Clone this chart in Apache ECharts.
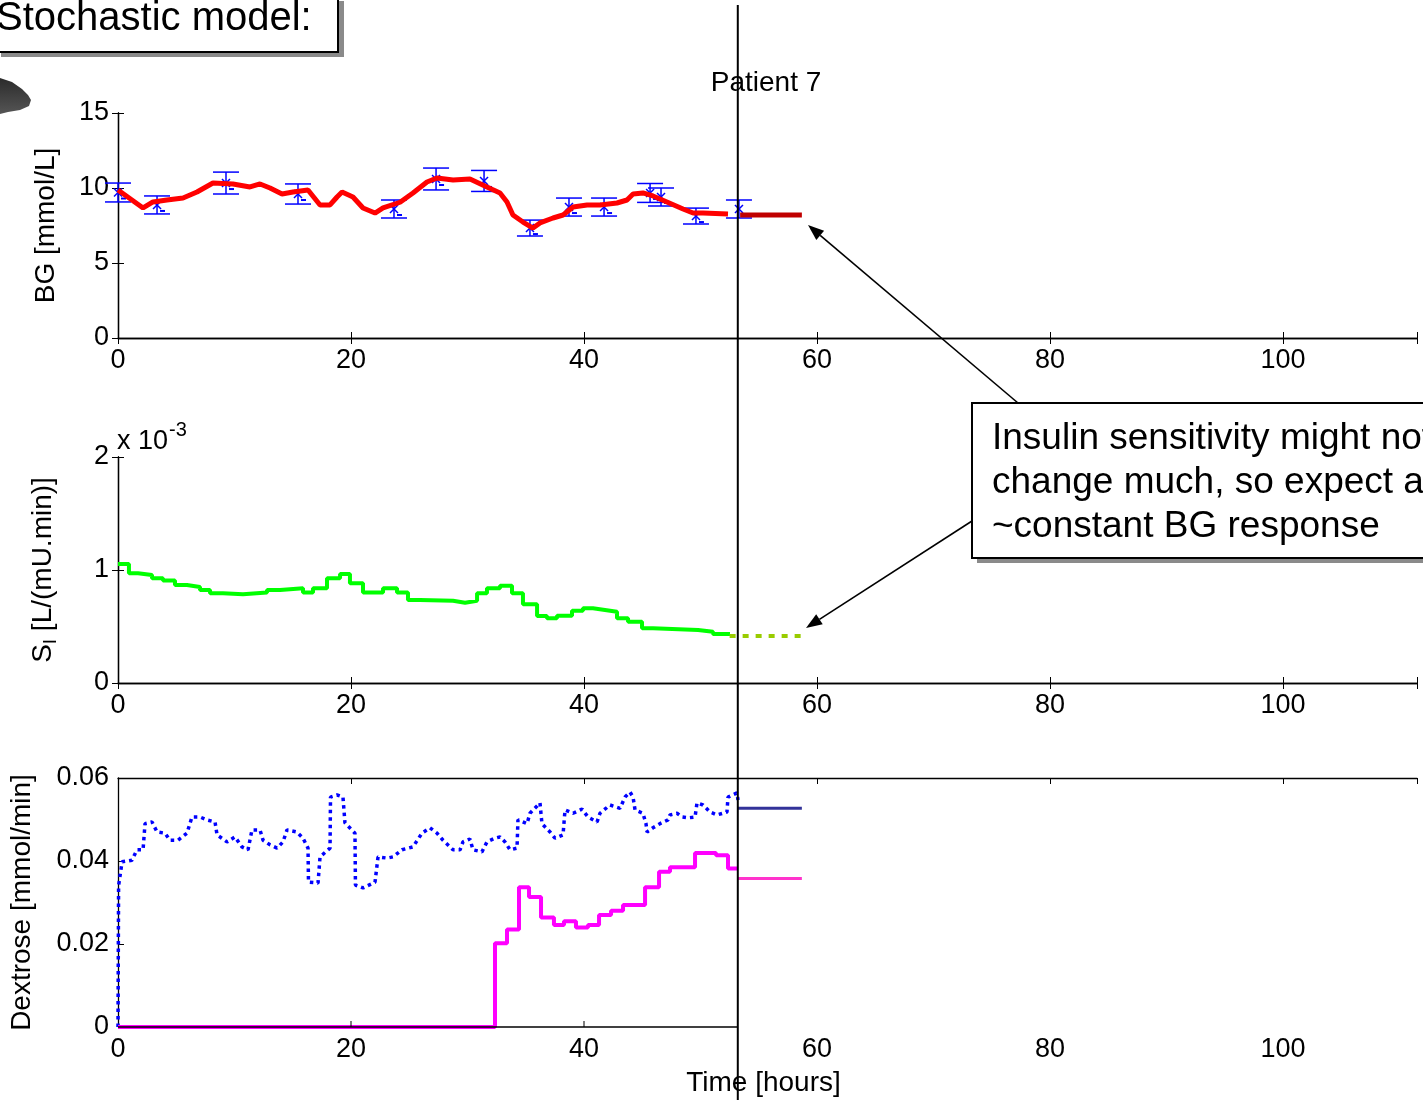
<!DOCTYPE html>
<html><head><meta charset="utf-8">
<script src="https://cdn.jsdelivr.net/npm/echarts@6/dist/echarts.min.js"></script>
<style>html,body{margin:0;padding:0;background:#fff;overflow:hidden}#c{width:1423px;height:1100px}</style>
</head><body><div id="c"></div><script>
// ---- data (hours / values) ----
const xTicks = [0, 20, 40, 60, 80, 100];
const nowTime = 53.2;

const bgTime  = [0, 2.15, 3.0, 4.2, 5.58, 6.78, 8.15, 9.87, 11.33, 12.19, 13.05, 14.08, 15.02, 16.31, 17.34, 18.2, 18.8, 19.23, 20.17, 21.03, 22.06, 22.75, 24.21, 25.32, 26.52, 27.38, 28.76, 30.21, 31.67, 32.79, 33.39, 33.9, 34.76, 35.62, 36.22, 37.34, 38.2, 39.06, 40.26, 41.37, 42.83, 43.69, 44.21, 45.06, 45.92, 47.12, 48.5, 49.36, 50.21, 52.36];
const bgValue = [9.87, 8.67, 9.07, 9.2, 9.33, 9.73, 10.33, 10.27, 10.07, 10.27, 10.0, 9.6, 9.73, 9.87, 8.87, 8.87, 9.4, 9.73, 9.4, 8.67, 8.33, 8.67, 9.05, 9.67, 10.4, 10.67, 10.53, 10.6, 10.07, 9.67, 9.07, 8.2, 7.73, 7.33, 7.67, 8.0, 8.2, 8.73, 8.87, 8.87, 9.0, 9.2, 9.6, 9.67, 9.47, 9.07, 8.6, 8.33, 8.33, 8.27];
const bgForecastTime  = [53.4, 58.7];
const bgForecastValue = [8.2, 8.2];

const measTime  = [0, 3.35, 9.27, 15.45, 23.69, 27.3, 31.42, 35.36, 38.71, 41.72, 45.67, 46.61, 49.61, 53.3];
const measValue = [9.7, 8.87, 10.33, 9.6, 8.6, 10.6, 10.47, 7.33, 8.73, 8.73, 9.67, 9.4, 8.13, 8.6];
const measErr   = [0.63, 0.6, 0.73, 0.67, 0.6, 0.73, 0.7, 0.53, 0.6, 0.6, 0.63, 0.6, 0.53, 0.6];

// insulin sensitivity, in units of 1e-3 L/(mU.min); each value holds until the next time
const siTime  = [0, 0.94, 1.72, 2.92, 3.86, 4.89, 5.92, 7.04, 7.9, 9.01, 10.73, 12.79, 13.91, 15.88, 16.74, 17.94, 19.06, 19.91, 21.03, 22.75, 23.95, 24.89, 25.92, 28.76, 29.79, 30.82, 31.67, 32.79, 33.82, 34.76, 35.97, 36.82, 37.68, 38.97, 39.91, 40.77, 41.8, 42.83, 43.78, 44.98, 45.92, 49.79, 51.07, 52.53];
const siValue = [1.053, 0.971, 0.956, 0.926, 0.906, 0.867, 0.85, 0.823, 0.794, 0.785, 0.80, 0.823, 0.838, 0.80, 0.838, 0.926, 0.965, 0.882, 0.80, 0.838, 0.80, 0.735, 0.727, 0.71, 0.727, 0.794, 0.838, 0.861, 0.794, 0.696, 0.593, 0.572, 0.596, 0.64, 0.661, 0.646, 0.631, 0.572, 0.543, 0.484, 0.469, 0.454, 0.434, 0.434];
const siForecastTime  = [52.5, 58.8];
const siForecastValue = [0.416, 0.416];

// total glucose input (blue dotted)
const feedTime  = [0, 0.05, 0.35, 1.2, 1.63, 2.15, 2.32, 2.92, 3.35, 4.03, 4.46, 5.15, 5.92, 6.35, 7.04, 7.64, 8.33, 8.5, 9.36, 10.04, 10.64, 11.16, 11.5, 12.19, 12.45, 13.05, 13.65, 14.16, 14.51, 15.36, 15.88, 16.31, 16.35, 17.17, 17.34, 18.2, 18.24, 18.8, 19.31, 19.48, 20.34, 20.38, 21.03, 22.06, 22.32, 23.09, 23.61, 24.38, 25.32, 26.09, 26.78, 27.38, 27.9, 28.76, 29.36, 29.61, 30.21, 30.47, 31.24, 31.67, 32.36, 32.79, 33.22, 33.65, 34.25, 34.33, 35.11, 35.36, 36.22, 36.39, 37.08, 37.51, 38.2, 38.37, 39.06, 39.83, 40.34, 41.12, 41.37, 42.23, 43.09, 43.52, 43.95, 44.21, 44.38, 45.06, 45.32, 45.41, 45.92, 46.52, 47.21, 47.38, 47.98, 48.41, 48.93, 49.53, 49.7, 50.21, 50.82, 51.42, 52.27, 52.36, 53.13, 53.22];
const feedValue = [0, 0.034, 0.0398, 0.0402, 0.0427, 0.0427, 0.049, 0.0494, 0.047, 0.0467, 0.045, 0.045, 0.0467, 0.0506, 0.0506, 0.0499, 0.0494, 0.0463, 0.0446, 0.0458, 0.0434, 0.0427, 0.0475, 0.0475, 0.045, 0.0439, 0.0431, 0.0446, 0.0475, 0.047, 0.0455, 0.0431, 0.0349, 0.0347, 0.041, 0.0431, 0.0554, 0.0559, 0.0554, 0.0492, 0.0467, 0.0342, 0.0335, 0.0349, 0.041, 0.0407, 0.041, 0.0427, 0.0434, 0.0467, 0.048, 0.0467, 0.045, 0.0427, 0.0427, 0.0446, 0.0453, 0.0427, 0.0422, 0.0446, 0.0455, 0.0458, 0.0446, 0.0427, 0.0431, 0.0499, 0.049, 0.0515, 0.054, 0.049, 0.047, 0.0455, 0.0463, 0.0523, 0.0515, 0.0525, 0.0506, 0.0494, 0.0515, 0.0535, 0.0527, 0.0554, 0.0566, 0.0554, 0.0523, 0.0515, 0.049, 0.047, 0.048, 0.049, 0.0499, 0.0511, 0.0515, 0.0506, 0.0504, 0.0506, 0.054, 0.0535, 0.0518, 0.0511, 0.0518, 0.0554, 0.0564, 0.0547];
const feedForecastTime  = [53.2, 58.7];
const feedForecastValue = [0.0527, 0.0527];

// dextrose infusion (magenta step); each value holds until the next time
const dexTime  = [0, 32.36, 33.39, 34.42, 35.28, 36.31, 37.42, 38.28, 39.31, 40.34, 41.29, 42.32, 43.35, 45.24, 46.44, 47.38, 49.53, 51.33, 52.36, 53.2];
const dexValue = [0, 0.0202, 0.0235, 0.0337, 0.0313, 0.0264, 0.0246, 0.0255, 0.024, 0.0246, 0.027, 0.028, 0.0294, 0.0337, 0.0374, 0.0385, 0.0419, 0.0414, 0.0382, 0.0382];
const dexForecastTime  = [53.2, 58.7];
const dexForecastValue = [0.0358, 0.0358];

// ---- chart ----
const FONT = 'Arial, "Liberation Sans", Helvetica, sans-serif';
const X_MAX = 111.5;
const pairs = (a, b) => a.map((t, i) => [t, b[i]]);
const black = '#000';

function bottomX(grid, showLine, showTick) {
  return {
    type: 'value', gridIndex: grid, min: 0, max: X_MAX, interval: 20, position: 'bottom',
    axisLine: { show: showLine, lineStyle: { color: black, width: 1.3 } },
    axisTick: { show: showTick, inside: true, length: 6, lineStyle: { color: black } },
    axisLabel: { color: black, fontSize: 27, fontFamily: FONT, margin: 9,
      formatter: v => (xTicks.indexOf(v) >= 0 ? String(v) : '') },
    splitLine: { show: false }
  };
}
function topX(grid) {
  return {
    type: 'value', gridIndex: grid, min: 0, max: X_MAX, interval: 20, position: 'top',
    axisLine: { show: true, lineStyle: { color: black, width: 1.3 } },
    axisTick: { show: true, inside: true, length: 6, lineStyle: { color: black } },
    axisLabel: { show: false }, splitLine: { show: false }
  };
}
function leftY(grid, min, max, interval, name, gap, fmt, nameStyle) {
  return {
    type: 'value', gridIndex: grid, min, max, interval, position: 'left',
    name, nameLocation: 'middle', nameGap: gap, nameRotate: 90,
    nameTextStyle: Object.assign({ color: black, fontSize: 28, fontFamily: FONT }, nameStyle || {}),
    axisLine: { show: true, lineStyle: { color: black, width: 1.3 } },
    axisTick: { show: true, inside: true, length: 6, lineStyle: { color: black } },
    axisLabel: { color: black, fontSize: 27, fontFamily: FONT, margin: 9, formatter: fmt },
    splitLine: { show: false }
  };
}
function rightY(grid, min, max, interval) {
  return {
    type: 'value', gridIndex: grid, min, max, interval, position: 'right',
    axisLine: { show: true, lineStyle: { color: black, width: 1.3 } },
    axisTick: { show: true, inside: true, length: 6, lineStyle: { color: black } },
    axisLabel: { show: false }, splitLine: { show: false }
  };
}

const xBottom3 = bottomX(2, false, false);
xBottom3.name = 'Time [hours]';
xBottom3.nameLocation = 'middle';
xBottom3.nameGap = 42;
xBottom3.nameTextStyle = { color: black, fontSize: 28, fontFamily: FONT, padding: [0, 8, 0, 0] };

const option = {
  animation: false,
  backgroundColor: '#fff',
  grid: [
    { left: 118, right: 6, top: 113, height: 225 },
    { left: 118, right: 6, top: 457, height: 226 },
    { left: 118, right: 6, top: 778, height: 249 }
  ],
  xAxis: [bottomX(0, true, true), bottomX(1, true, true), xBottom3, topX(0), topX(1), topX(2)],
  yAxis: [
    leftY(0, 0, 15, 5, 'BG [mmol/L]', 58, v => String(v)),
    leftY(1, 0, 2, 1, '{n|S}{s|I}{n| [L/(mU.min)]}', 58, v => String(v), {
      rich: {
        n: { fontSize: 28, fontFamily: FONT, color: black },
        s: { fontSize: 19, fontFamily: FONT, color: black, padding: [14, 0, 0, 0] }
      }
    }),
    leftY(2, 0, 0.06, 0.02, 'Dextrose [mmol/min]', 82, v => (v === 0 ? '0' : v.toFixed(2))),
    rightY(0, 0, 15, 5),
    rightY(1, 0, 2, 1)
  ],
  series: [
    {
      type: 'custom', xAxisIndex: 0, yAxisIndex: 0, z: 3,
      data: measTime.map((t, i) => [t, measValue[i], measErr[i]]),
      encode: { x: 0, y: 1 },
      renderItem: function (params, api) {
        const x = api.value(0), y = api.value(1), e = api.value(2);
        const c = api.coord([x, y]);
        const hi = api.coord([x, y + e]);
        const lo = api.coord([x, y - e]);
        const w = 13, m = 4;
        const st = { stroke: '#0000ff', lineWidth: 1.5, fill: null };
        return {
          type: 'group',
          children: [
            { type: 'line', shape: { x1: c[0], y1: hi[1], x2: c[0], y2: lo[1] }, style: st },
            { type: 'line', shape: { x1: c[0] - w, y1: hi[1], x2: c[0] + w, y2: hi[1] }, style: st },
            { type: 'line', shape: { x1: c[0] - w, y1: lo[1], x2: c[0] + w, y2: lo[1] }, style: st },
            { type: 'line', shape: { x1: c[0] - m, y1: c[1] - m, x2: c[0] + m, y2: c[1] + m }, style: st },
            { type: 'line', shape: { x1: c[0] - m, y1: c[1] + m, x2: c[0] + m, y2: c[1] - m }, style: st },
            { type: 'line', shape: { x1: c[0] + 3, y1: c[1] + 6, x2: c[0] + 8, y2: c[1] + 6 }, style: { stroke: '#0000ff', lineWidth: 2 } }
          ]
        };
      }
    },
    {
      type: 'line', xAxisIndex: 0, yAxisIndex: 0, z: 4, data: pairs(bgTime, bgValue),
      showSymbol: false, symbol: 'none', lineStyle: { color: '#ff0000', width: 5 }
    },
    {
      type: 'line', xAxisIndex: 0, yAxisIndex: 0, z: 4, data: pairs(bgForecastTime, bgForecastValue),
      showSymbol: false, symbol: 'none', lineStyle: { color: '#c00000', width: 5 }
    },
    {
      type: 'line', xAxisIndex: 1, yAxisIndex: 1, data: pairs(siTime, siValue), step: 'end',
      showSymbol: false, symbol: 'none', lineStyle: { color: '#00ff00', width: 4 }
    },
    {
      type: 'line', xAxisIndex: 1, yAxisIndex: 1, data: pairs(siForecastTime, siForecastValue),
      showSymbol: false, symbol: 'none', lineStyle: { color: '#99cc00', width: 4, type: [6, 7] }
    },
    {
      type: 'line', xAxisIndex: 2, yAxisIndex: 2, data: pairs(feedTime, feedValue),
      showSymbol: false, symbol: 'none', lineStyle: { color: '#0000ff', width: 3.5, type: [3.5, 4] }
    },
    {
      type: 'line', xAxisIndex: 2, yAxisIndex: 2, data: pairs(feedForecastTime, feedForecastValue),
      showSymbol: false, symbol: 'none', lineStyle: { color: '#333399', width: 3 }
    },
    {
      type: 'line', xAxisIndex: 2, yAxisIndex: 2, data: pairs(dexTime, dexValue), step: 'end',
      showSymbol: false, symbol: 'none', lineStyle: { color: '#ff00ff', width: 4 }
    },
    {
      type: 'line', xAxisIndex: 2, yAxisIndex: 2, data: pairs(dexForecastTime, dexForecastValue),
      showSymbol: false, symbol: 'none', lineStyle: { color: '#ff33cc', width: 3 }
    }
  ]
};

const chart = echarts.init(document.getElementById('c'), null, { renderer: 'canvas' });
chart.setOption(option);

// ---- decorations ----
const nowX = chart.convertToPixel({ xAxisIndex: 0 }, nowTime);
const x0 = chart.convertToPixel({ xAxisIndex: 2 }, 0);
const yBase3 = chart.convertToPixel({ yAxisIndex: 2 }, 0);

function arrow(x1, y1, x2, y2) {
  const L = 16, W = 6;
  const dx = x2 - x1, dy = y2 - y1, d = Math.hypot(dx, dy);
  const ux = dx / d, uy = dy / d;
  const bx = x2 - ux * L, by = y2 - uy * L;
  return [
    { type: 'line', z: 100, shape: { x1, y1, x2: bx, y2: by }, style: { stroke: black, lineWidth: 1.6 } },
    { type: 'polygon', z: 100, shape: { points: [[x2, y2], [bx - uy * W, by + ux * W], [bx + uy * W, by - ux * W]] }, style: { fill: black } }
  ];
}

const graphics = [
  // x-axis baseline of the lowest panel, drawn only up to the "now" line, with its inside ticks
  { type: 'line', z: 50, shape: { x1: x0, y1: yBase3, x2: nowX, y2: yBase3 }, style: { stroke: black, lineWidth: 1.3 } }
];
xTicks.forEach(t => {
  if (t > 0 && t < nowTime) {
    const px = chart.convertToPixel({ xAxisIndex: 2 }, t);
    graphics.push({ type: 'line', z: 50, shape: { x1: px, y1: yBase3, x2: px, y2: yBase3 - 6 }, style: { stroke: black, lineWidth: 1 } });
  }
});

graphics.push(
  // "Stochastic model:" box
  { type: 'rect', z: 100, shape: { x: 1, y: 1, width: 343, height: 56 }, style: { fill: '#8a8a8a' } },
  { type: 'rect', z: 101, shape: { x: -5, y: -5, width: 343, height: 57 }, style: { fill: '#fff', stroke: black, lineWidth: 2 } },
  { type: 'text', z: 102, x: -4, y: 19, style: { text: 'Stochastic model:', font: '40px ' + FONT, fill: black, verticalAlign: 'middle', align: 'left' } },
  // clip-art fragment
  { type: 'polygon', z: 100, shape: { points: [[0, 78], [12, 82], [22, 89], [28, 95], [31, 100], [29, 106], [20, 110], [8, 112], [0, 114]] },
    style: { fill: new echarts.graphic.LinearGradient(0, 0, 0, 1, [{ offset: 0, color: '#2b2b2b' }, { offset: 1, color: '#555' }]) } },
  // title
  { type: 'text', z: 100, x: 766, y: 83, style: { text: 'Patient 7', font: '28px ' + FONT, fill: black, align: 'center', verticalAlign: 'middle' } },
  // exponent label
  { type: 'text', z: 100, x: 117, y: 418, style: { text: '{a|x 10}{b|-3}', fill: black,
      rich: { a: { fontSize: 27, fontFamily: FONT, fill: black, padding: [10, 0, 0, 0] }, b: { fontSize: 20, fontFamily: FONT, fill: black, padding: [0, 0, 12, 1] } } } },
  // "now" line
  { type: 'line', z: 90, shape: { x1: nowX, y1: 5, x2: nowX, y2: 1100 }, style: { stroke: black, lineWidth: 2 } },
  // annotation box
  { type: 'rect', z: 100, shape: { x: 977, y: 408, width: 470, height: 155 }, style: { fill: '#8a8a8a' } },
  { type: 'rect', z: 101, shape: { x: 972, y: 403, width: 470, height: 155 }, style: { fill: '#fff', stroke: black, lineWidth: 2 } },
  { type: 'text', z: 102, x: 992, y: 417, style: {
      text: 'Insulin sensitivity might not\nchange much, so expect a\n~constant BG response',
      font: '37px ' + FONT, fill: black, lineHeight: 44, align: 'left', verticalAlign: 'top' } }
);

chart.setOption({ graphic: graphics.concat(arrow(1018, 403, 808, 225), arrow(972, 521, 806, 628)) });
</script></body></html>
